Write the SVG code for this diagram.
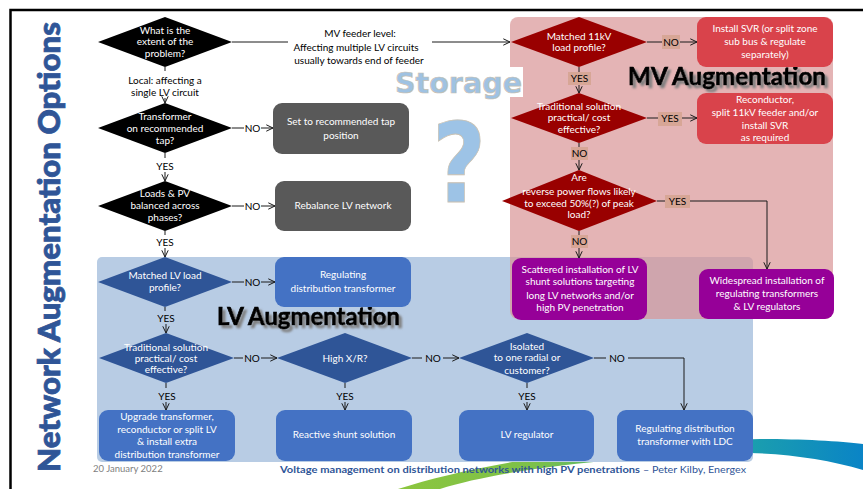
<svg xmlns="http://www.w3.org/2000/svg" width="863" height="489" viewBox="0 0 863 489">
  <defs>
    <style>
      .t { font-family: Lato, "Open Sans", "Liberation Sans", sans-serif; font-size: 10px; text-anchor: middle; }
      .w { fill: #ffffff; }
      .k { fill: #000000; }
      .ln { stroke: #1a1a1a; stroke-width: 1; fill: none; }
      .lbl { fill: #d7a696; }
      .dk { fill: #000000; }
      .gray { fill: #595959; }
      .mvd { fill: #990000; }
      .mvb { fill: #d9434b; }
      .pur { fill: #960098; }
      .lvd { fill: #2f5597; }
      .lvb { fill: #4472c4; }
      .big { font-family: Lato, "Open Sans", "Liberation Sans", sans-serif; font-weight: 700; font-size: 24px; fill: #000; stroke: #000; stroke-width: 0.7px; }
    </style>
    <marker id="ah" viewBox="0 0 8 8" refX="7.5" refY="4" markerWidth="8" markerHeight="8" orient="auto" markerUnits="userSpaceOnUse">
      <path d="M0.8,0.8 L7.5,4 L0.8,7.2" fill="none" stroke="#1a1a1a" stroke-width="1"/>
    </marker>
    <linearGradient id="swoosh" x1="395" y1="0" x2="863" y2="0" gradientUnits="userSpaceOnUse">
      <stop offset="0" stop-color="#8cc63e"/>
      <stop offset="0.3" stop-color="#7cc04a"/>
      <stop offset="0.7" stop-color="#1fa5a8"/>
      <stop offset="1" stop-color="#0a84c6"/>
    </linearGradient>
    <!-- soft grey drop shadow for the region headings -->
    <filter id="shadow" x="-5%" y="-30%" width="115%" height="170%">
      <feGaussianBlur in="SourceAlpha" stdDeviation="1.2" result="b"/>
      <feOffset in="b" dx="3" dy="3" result="o"/>
      <feFlood flood-color="#7f7f7f" result="c"/>
      <feComposite in="c" in2="o" operator="in" result="s"/>
      <feMerge><feMergeNode in="s"/><feMergeNode in="SourceGraphic"/></feMerge>
    </filter>
  </defs>

  <rect width="863" height="489" fill="#ffffff"/>

  <!-- decorative swoosh along the bottom -->
  <path d="M398,489 C480,462 620,442 760,439 C800,439 840,441 863,444 L863,470 C830,460 790,454 750,453 C620,455 500,470 440,489 Z" fill="url(#swoosh)"/>

  <!-- slide frame -->
  <path d="M10.5,489 V10 H863" fill="none" stroke="#000" stroke-width="2.5"/>

  <!-- vertical title -->
  <text transform="translate(60,472) rotate(-90)" font-family="Lato, 'Open Sans', sans-serif" font-weight="900" font-size="31" fill="#2f5597" stroke="#2f5597" stroke-width="0.8" textLength="450" lengthAdjust="spacingAndGlyphs">Network Augmentation Options</text>

  <!-- region backgrounds -->
  <rect id="lv-region" x="97" y="257" width="656" height="205" rx="5" fill="#b8cce4"/>
  <rect id="mv-region" x="510" y="17" width="323" height="302" rx="8" fill="#d89495" opacity="0.7"/>

  <!-- storage overlay -->
  <g id="storage">
    <rect x="392" y="67" width="131" height="30" fill="#ffffff"/>
    <text x="395" y="93" font-family="'DejaVu Sans', Verdana, sans-serif" font-weight="700" font-size="28" fill="#9fc2e2" stroke="#c9c1b2" stroke-width="0.7" textLength="127" lengthAdjust="spacingAndGlyphs">Storage</text>
    <text transform="translate(459,202) scale(0.85,1)" text-anchor="middle" font-family="'DejaVu Sans', Verdana, sans-serif" font-weight="700" font-size="110" fill="#9dc3e6" stroke="#c9c1b2" stroke-width="0.8">?</text>
  </g>

  <!-- region headings -->
  <text id="mv-heading" class="big" x="628" y="85" filter="url(#shadow)" textLength="198" lengthAdjust="spacingAndGlyphs">MV Augmentation</text>
  <text id="lv-heading" class="big" x="217" y="325" filter="url(#shadow)" textLength="183" lengthAdjust="spacingAndGlyphs">LV Augmentation</text>

  <!-- ===== nodes ===== -->
  <g id="q-extent">
    <polygon class="dk" points="98,42 165,17 232,42 165,67"/>
    <text class="t w"><tspan x="165" y="33.5">What is the</tspan><tspan x="165" y="45.2">extent of the</tspan><tspan x="165" y="56.8">problem?</tspan></text>
  </g>
  <g id="q-tap">
    <polygon class="dk" points="98,128 165,103 232,128 165,153"/>
    <text class="t w"><tspan x="165" y="120.2">Transformer</tspan><tspan x="165" y="131.8">on recommended</tspan><tspan x="165" y="143.5">tap?</tspan></text>
  </g>
  <g id="a-tap">
    <rect class="gray" x="273" y="103" width="136" height="51" rx="9"/>
    <text class="t w"><tspan x="341" y="125.2">Set to recommended tap</tspan><tspan x="341" y="138.5">position</tspan></text>
  </g>
  <g id="q-balance">
    <polygon class="dk" points="98,206 165,181 232,206 165,231"/>
    <text class="t w"><tspan x="165" y="196.5">Loads &amp; PV</tspan><tspan x="165" y="208.5">balanced across</tspan><tspan x="165" y="220.5">phases?</tspan></text>
  </g>
  <g id="a-balance">
    <rect class="gray" x="275" y="181" width="136" height="50" rx="9"/>
    <text class="t w" x="343" y="208.5">Rebalance  LV network</text>
  </g>

  <g id="q-mv-profile">
    <polygon class="mvd" points="511,42 579,17 647,42 579,67"/>
    <text class="t w"><tspan x="579" y="39.5">Matched 11kV</tspan><tspan x="579" y="51.2">load profile?</tspan></text>
  </g>
  <g id="a-mv-svr">
    <rect class="mvb" x="697" y="17" width="136" height="50" rx="9"/>
    <text class="t w"><tspan x="765" y="32.2">Install SVR (or split zone</tspan><tspan x="765" y="45.2">sub bus &amp; regulate</tspan><tspan x="765" y="57.8">separately)</tspan></text>
  </g>
  <g id="q-mv-trad">
    <polygon class="mvd" points="511,118 579,93 647,118 579,143"/>
    <text class="t w"><tspan x="579" y="110.2">Traditional solution</tspan><tspan x="579" y="121.2">practical/ cost</tspan><tspan x="579" y="132.8">effective?</tspan></text>
  </g>
  <g id="a-mv-reconductor">
    <rect class="mvb" x="697" y="93" width="136" height="51" rx="9"/>
    <text class="t w"><tspan x="765" y="102.5">Reconductor,</tspan><tspan x="765" y="115.8">split 11kV feeder and/or</tspan><tspan x="765" y="128.5">install SVR</tspan><tspan x="765" y="140.8">as required</tspan></text>
  </g>
  <g id="q-reverse">
    <polygon class="mvd" points="502,201 579,170 657,201 579,231"/>
    <text class="t w"><tspan x="579" y="180.5">Are</tspan><tspan x="579" y="195">reverse power flows likely</tspan><tspan x="579" y="206.5">to exceed 50%(?) of peak</tspan><tspan x="579" y="217.5">load?</tspan></text>
  </g>
  <g id="a-scattered">
    <rect class="pur" x="512" y="258" width="135" height="62" rx="9"/>
    <text class="t w"><tspan x="580" y="272.5">Scattered installation of LV</tspan><tspan x="580" y="285.2">shunt solutions targeting</tspan><tspan x="580" y="298.5">long LV networks and/or</tspan><tspan x="580" y="310.8">high PV penetration</tspan></text>
  </g>
  <g id="a-widespread">
    <rect class="pur" x="699" y="269" width="135" height="50" rx="9"/>
    <text class="t w"><tspan x="767" y="283.5">Widespread installation of</tspan><tspan x="767" y="296.8">regulating transformers</tspan><tspan x="767" y="309.5">&amp; LV regulators</tspan></text>
  </g>

  <g id="q-lv-profile">
    <polygon class="lvd" points="98,282 165,257 232,282 165,307"/>
    <text class="t w"><tspan x="165" y="278.5">Matched LV load</tspan><tspan x="165" y="290.8">profile?</tspan></text>
  </g>
  <g id="a-lv-regdt">
    <rect class="lvb" x="275" y="257" width="136" height="50" rx="9"/>
    <text class="t w"><tspan x="343" y="277.8">Regulating</tspan><tspan x="343" y="291.8">distribution transformer</tspan></text>
  </g>
  <g id="q-lv-trad">
    <polygon class="lvd" points="99,358 166,333 234,358 166,383"/>
    <text class="t w"><tspan x="166" y="350.5">Traditional solution</tspan><tspan x="166" y="361.5">practical/ cost</tspan><tspan x="166" y="372.8">effective?</tspan></text>
  </g>
  <g id="q-xr">
    <polygon class="lvd" points="277,358 345,333 412,358 345,383"/>
    <text class="t w" x="345" y="361.5">High X/R?</text>
  </g>
  <g id="q-isolated">
    <polygon class="lvd" points="459,358 527,333 594,358 527,383"/>
    <text class="t w"><tspan x="527" y="349.5">Isolated</tspan><tspan x="527" y="361.2">to one radial or</tspan><tspan x="527" y="373.5">customer?</tspan></text>
  </g>
  <g id="a-upgrade">
    <rect class="lvb" x="99" y="410" width="136" height="51" rx="9"/>
    <text class="t w"><tspan x="167" y="419.5">Upgrade transformer,</tspan><tspan x="167" y="432.5">reconductor or split LV</tspan><tspan x="167" y="445.2">&amp; install extra</tspan><tspan x="167" y="458.2">distribution transformer</tspan></text>
  </g>
  <g id="a-shunt">
    <rect class="lvb" x="276" y="410" width="136" height="51" rx="9"/>
    <text class="t w" x="344" y="437.8">Reactive shunt solution</text>
  </g>
  <g id="a-lvreg">
    <rect class="lvb" x="459" y="410" width="135" height="51" rx="9"/>
    <text class="t w" x="527" y="438.2">LV regulator</text>
  </g>
  <g id="a-ldc">
    <rect class="lvb" x="617" y="410" width="136" height="51" rx="9"/>
    <text class="t w"><tspan x="685" y="431.8">Regulating distribution</tspan><tspan x="685" y="445.2">transformer with LDC</tspan></text>
  </g>

  <!-- ===== connectors ===== -->
  <g id="connectors">
    <!-- extent of problem -->
    <path class="ln" d="M232,42 H288"/>
    <path class="ln" d="M432,42 H510" marker-end="url(#ah)"/>
    <path class="ln" d="M165,67 V71"/>
    <path class="ln" d="M165,98 V103" marker-end="url(#ah)"/>

    <!-- black / grey section -->
    <path class="ln" d="M232,128 H244"/>
    <path class="ln" d="M261,128 H273" marker-end="url(#ah)"/>
    <path class="ln" d="M165,153 V158"/>
    <path class="ln" d="M165,172 V181" marker-end="url(#ah)"/>
    <path class="ln" d="M232,206 H244"/>
    <path class="ln" d="M261,206 H275" marker-end="url(#ah)"/>
    <path class="ln" d="M165,231 V235"/>
    <path class="ln" d="M165,248 V257" marker-end="url(#ah)"/>

    <!-- LV section -->
    <path class="ln" d="M232,282 H244"/>
    <path class="ln" d="M261,282 H275" marker-end="url(#ah)"/>
    <path class="ln" d="M165,307 V311"/>
    <path class="ln" d="M166,324 V333" marker-end="url(#ah)"/>
    <path class="ln" d="M234,358 H243"/>
    <path class="ln" d="M261,358 H277" marker-end="url(#ah)"/>
    <path class="ln" d="M412,358 H422"/>
    <path class="ln" d="M443,358 H459" marker-end="url(#ah)"/>
    <path class="ln" d="M594,358 H606"/>
    <path class="ln" d="M628,358 H684 V410" marker-end="url(#ah)"/>
    <path class="ln" d="M166,383 V388"/>
    <path class="ln" d="M166,402 V410" marker-end="url(#ah)"/>
    <path class="ln" d="M345,383 V388"/>
    <path class="ln" d="M345,402 V410" marker-end="url(#ah)"/>
    <path class="ln" d="M527,383 V388"/>
    <path class="ln" d="M527,402 V410" marker-end="url(#ah)"/>

    <!-- MV section -->
    <path class="ln" d="M647,42 H662"/>
    <path class="ln" d="M680,42 H697" marker-end="url(#ah)"/>
    <path class="ln" d="M579,67 V72"/>
    <path class="ln" d="M579,85 V93" marker-end="url(#ah)"/>
    <path class="ln" d="M647,118 H658"/>
    <path class="ln" d="M682,118 H697" marker-end="url(#ah)"/>
    <path class="ln" d="M579,143 V147"/>
    <path class="ln" d="M579,160 V170" marker-end="url(#ah)"/>
    <path class="ln" d="M657,201 H665"/>
    <path class="ln" d="M690,201 H767 V269" marker-end="url(#ah)"/>
    <path class="ln" d="M579,231 V235"/>
    <path class="ln" d="M579,248 V258" marker-end="url(#ah)"/>
  </g>

  <!-- connector labels -->
  <g id="labels">
    <text class="t k"><tspan x="360" y="36.5">MV feeder level:</tspan><tspan x="356" y="51">Affecting multiple LV circuits</tspan><tspan x="359" y="64">usually towards end of feeder</tspan></text>
    <text class="t k"><tspan x="165" y="83.5">Local: affecting a</tspan><tspan x="165" y="96">single LV circuit</tspan></text>

    <text class="t k" x="252.5" y="131.5">NO</text>
    <text class="t k" x="165" y="169.5">YES</text>
    <text class="t k" x="252.5" y="209.5">NO</text>
    <text class="t k" x="165" y="245.5">YES</text>
    <text class="t k" x="252.5" y="285.5">NO</text>
    <text class="t k" x="166" y="321.5">YES</text>
    <text class="t k" x="252" y="361.5">NO</text>
    <text class="t k" x="433" y="361.5">NO</text>
    <text class="t k" x="617" y="361.5">NO</text>
    <text class="t k" x="167" y="399.5">YES</text>
    <text class="t k" x="345" y="399.5">YES</text>
    <text class="t k" x="527" y="399.5">YES</text>

    <rect class="lbl" x="662" y="35" width="18" height="14"/>
    <text class="t k" x="671" y="45.5">NO</text>
    <rect class="lbl" x="568" y="72" width="23" height="13"/>
    <text class="t k" x="579.5" y="82">YES</text>
    <rect class="lbl" x="658" y="112" width="24" height="14"/>
    <text class="t k" x="670" y="122">YES</text>
    <rect class="lbl" x="571" y="147" width="17" height="13"/>
    <text class="t k" x="579.5" y="157">NO</text>
    <rect class="lbl" x="665" y="195" width="25" height="13"/>
    <text class="t k" x="677.5" y="205">YES</text>
    <rect class="lbl" x="571" y="235" width="17" height="13"/>
    <text class="t k" x="579.5" y="245">NO</text>
  </g>

  <!-- footer -->
  <g id="footer">
    <text x="93" y="471.5" font-family="Lato, 'Open Sans', sans-serif" font-size="9.5" fill="#7f7f7f">20 January 2022</text>
    <text x="280" y="472.5" font-family="Lato, 'Open Sans', sans-serif" font-size="10" font-weight="700" fill="#2f5597" textLength="360" lengthAdjust="spacingAndGlyphs">Voltage management on distribution networks with high PV penetrations</text>
    <text x="643" y="472.5" font-family="Lato, 'Open Sans', sans-serif" font-size="10" fill="#2f5597" textLength="103" lengthAdjust="spacingAndGlyphs">– Peter Kilby, Energex</text>
  </g>
</svg>
